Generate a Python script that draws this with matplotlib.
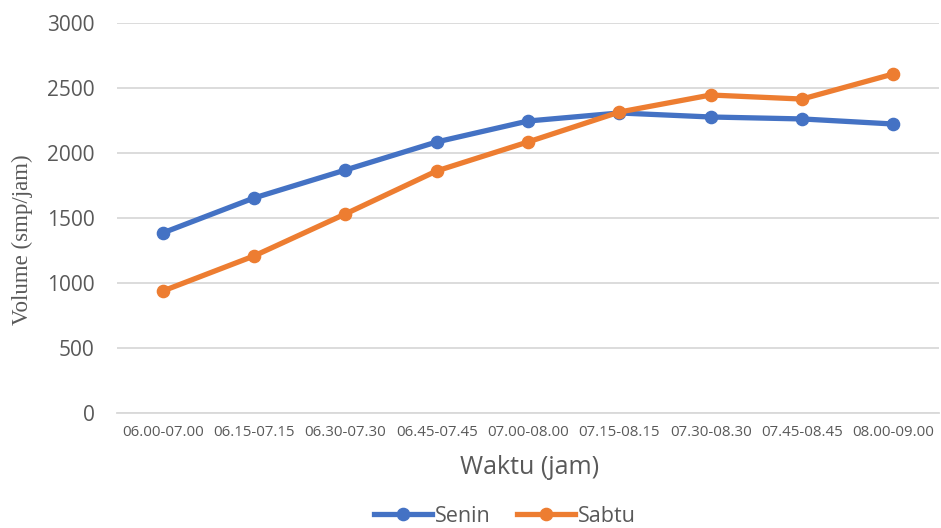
import matplotlib
matplotlib.use("Agg")
import matplotlib.pyplot as plt

categories = ["06.00-07.00", "06.15-07.15", "06.30-07.30", "06.45-07.45", "07.00-08.00",
              "07.15-08.15", "07.30-08.30", "07.45-08.45", "08.00-09.00"]
senin = [1385, 1654, 1869, 2085, 2246, 2308, 2277, 2262, 2223]
sabtu = [938, 1208, 1531, 1862, 2085, 2315, 2446, 2415, 2608]
yticks = [0, 500, 1000, 1500, 2000, 2500, 3000]

txt = "#595959"
fig = plt.figure(figsize=(9.41, 5.28), dpi=100)
ax = fig.add_axes([117/941, 1-413/528, (939-117)/941, (413-23)/528])

x = list(range(len(categories)))
ax.plot(x, senin, color="#4472C4", lw=3.8, marker="o", ms=8.8, label="Senin", zorder=3)
ax.plot(x, sabtu, color="#ED7D31", lw=3.8, marker="o", ms=8.8, label="Sabtu", zorder=4)

ax.set_xlim(-0.5, len(categories)-0.5)
ax.set_ylim(0, 3000)
ax.set_yticks(yticks)
ax.set_yticklabels([str(v) for v in yticks], fontsize=15, color=txt, family="Open Sans")
ax.set_xticks(x)
ax.set_xticklabels(categories, fontsize=10.8, color=txt, family="Open Sans")
ax.tick_params(axis="both", length=0)
ax.tick_params(axis="y", pad=16)
ax.tick_params(axis="x", pad=9)
ax.grid(axis="y", color="#D9D9D9", lw=1.3)
ax.set_axisbelow(True)
for s in ["top", "right", "left"]:
    ax.spines[s].set_visible(False)
ax.spines["bottom"].set_color("#D9D9D9")
ax.spines["bottom"].set_linewidth(1.3)

fig.text(530/941, 1-468/528, "Waktu (jam)", ha="center", va="center", fontsize=18, color=txt, family="Open Sans")
fig.text(22/941, 1-240/528, "Volume (smp/jam)", ha="center", va="center", rotation=90, fontsize=16.5, color=txt, family="Liberation Serif")

leg = fig.legend(loc="center", bbox_to_anchor=(505/941, 1-516/528), ncol=2, frameon=False,
                 prop={"family": "Open Sans", "size": 15.5}, handlelength=2.7, columnspacing=1.2,
                 handletextpad=0.15, borderaxespad=0)
for t in leg.get_texts():
    t.set_color(txt)

fig.savefig("out.png", dpi=100)
